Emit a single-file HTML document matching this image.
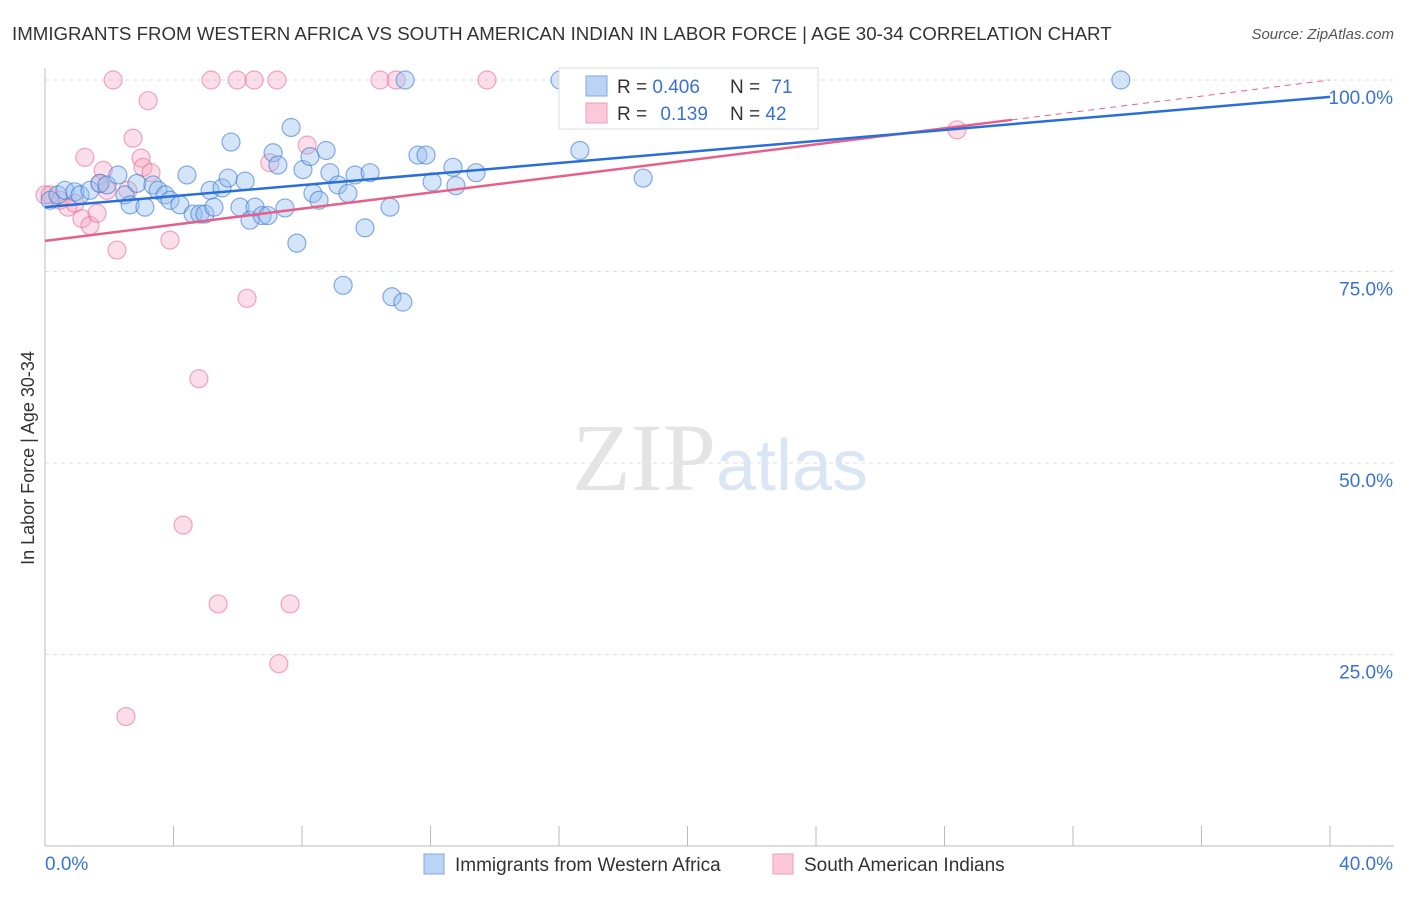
<!DOCTYPE html>
<html><head><meta charset="utf-8"><style>
body{margin:0;background:#fff;font-family:"Liberation Sans",sans-serif;}
svg text{font-family:"Liberation Sans",sans-serif;}
</style></head><body>
<svg id="chart" width="1406" height="892" xmlns="http://www.w3.org/2000/svg">
<text x="12" y="40" font-size="18.7" fill="#333">IMMIGRANTS FROM WESTERN AFRICA VS SOUTH AMERICAN INDIAN IN LABOR FORCE | AGE 30-34 CORRELATION CHART</text>
<text x="1394" y="39" font-size="15" fill="#555" font-style="italic" text-anchor="end">Source: ZipAtlas.com</text>
<g id="grid"></g>
<text x="720" y="490" font-size="96" text-anchor="middle"><tspan fill="#e4e4e4" font-family="Liberation Serif">ZIP</tspan><tspan fill="#dbe6f5" font-size="72">atlas</tspan></text>
<g id="pts"></g>
<g id="lines"></g>
<text transform="translate(34,458) rotate(-90)" font-size="18" fill="#333" text-anchor="middle">In Labor Force | Age 30-34</text>
<g>
<rect x="559" y="68" width="259" height="61" fill="#fff" stroke="#ddd"/>
<rect x="586" y="76" width="21" height="20" fill="#bcd4f4" stroke="#7ea8e6"/>
<rect x="586" y="103" width="21" height="20" fill="#fbc9d8" stroke="#ee9db7"/>
<text x="617" y="93" font-size="19" fill="#333">R = <tspan fill="#3a72d0">0.406</tspan></text>
<text x="730" y="93" font-size="19" fill="#333">N = <tspan fill="#3a72d0" dx="6">71</tspan></text>
<text x="617" y="120" font-size="19" fill="#333">R = <tspan fill="#3a72d0" dx="8">0.139</tspan></text>
<text x="730" y="120" font-size="19" fill="#333">N = <tspan fill="#3a72d0">42</tspan></text>
</g>
<g>
<rect x="424" y="854" width="20" height="20" fill="#bcd4f4" stroke="#7ea8e6"/>
<text x="455" y="871" font-size="19" fill="#333">Immigrants from Western Africa</text>
<rect x="773" y="854" width="20" height="20" fill="#fbc9d8" stroke="#ee9db7"/>
<text x="804" y="871" font-size="19" fill="#333">South American Indians</text>
</g>
</svg>
<script>
const yTicks=[25,50,75,100];
const yTickLabels=["25.0%","50.0%","75.0%","100.0%"];
const xTickLabels=["0.0%","40.0%"];
const blueX=[0.16,0.40,0.62,0.93,1.09,1.40,1.71,1.93,2.27,2.49,2.65,2.86,3.11,3.36,3.52,3.74,3.89,4.20,4.42,4.61,4.82,4.98,5.14,5.26,5.51,5.70,5.79,6.07,6.23,6.38,6.54,6.76,6.94,7.10,7.25,7.47,7.66,7.84,8.03,8.25,8.34,8.53,8.75,8.87,9.12,9.28,9.43,9.65,9.96,10.12,10.74,10.80,11.14,11.21,11.61,11.86,12.05,12.70,12.79,13.42,16.03,16.65,18.62,33.49,22.26];
const blueY=[84.3,85.0,85.6,85.4,85.0,85.6,86.5,86.3,87.6,85.0,83.7,86.5,83.4,86.3,85.6,85.0,84.3,83.7,87.6,82.5,82.5,82.5,85.6,83.4,85.9,87.2,91.9,83.4,86.8,81.7,83.4,82.3,82.3,90.5,88.9,83.3,93.8,78.7,88.3,90.0,85.2,84.3,90.8,87.9,86.3,73.2,85.2,87.6,80.7,87.9,83.4,71.7,71.0,100,90.2,90.2,86.7,88.6,86.2,87.9,100,90.8,87.2,100,95.6];
const pinkX=[0.0,0.16,0.47,0.71,0.93,1.15,1.24,1.40,1.62,1.71,1.81,1.93,2.12,2.24,2.58,2.74,2.99,3.05,3.21,3.30,3.89,4.30,4.79,5.17,5.39,5.98,6.29,6.51,7.00,7.22,7.28,7.63,8.16,10.43,10.93,13.76,2.52,22.51,28.39];
const pinkY=[85.0,85.0,84.3,83.4,83.9,81.9,89.9,81.0,82.6,86.5,88.2,85.6,100,77.8,85.6,92.4,89.8,88.6,97.3,87.9,79.1,41.9,61.0,100,31.6,100,71.5,100,89.2,100,23.8,31.6,91.5,100,100,100,16.9,100,93.5];
const blueLine=[83.4,97.8];
const pinkLine=[79.0,100];
const X0=45,X1=1330,Y0=846,Y100=80;
const sx=v=>X0+(X1-X0)*v/40, sy=v=>Y0-(Y0-Y100)*v/100;
const NS="http://www.w3.org/2000/svg";
function mk(t,a,p){const e=document.createElementNS(NS,t);for(const k in a)e.setAttribute(k,a[k]);p.appendChild(e);return e;}
const grid=document.getElementById('grid');
mk('line',{x1:45,y1:68,x2:45,y2:846,stroke:'#bbb'},grid);
mk('line',{x1:45,y1:846,x2:1394,y2:846,stroke:'#bbb'},grid);
yTicks.forEach((t,i)=>{
 const g=mk('line',{x1:45,y1:sy(t),x2:1394,y2:sy(t),stroke:'#ddd','stroke-dasharray':'4,4'},grid);
 
 
 const tx=mk('text',{x:1393,y:sy(t)+24,'font-size':19,fill:'#3a72d0','text-anchor':'end'},grid);
 tx.textContent=yTickLabels[i];
 
 
});
for(let i=0;i<=10;i++){const l=mk('line',{x1:sx(i*4),y1:826,x2:sx(i*4),y2:846,stroke:'#bbb'},grid);
 
 }
const xl0=mk('text',{x:45,y:870,'font-size':19,fill:'#3a72d0'},grid);xl0.textContent=xTickLabels[0];


const xl1=mk('text',{x:1393,y:870,'font-size':19,fill:'#3a72d0','text-anchor':'end'},grid);xl1.textContent=xTickLabels[1];


const pts=document.getElementById('pts');
pinkX.forEach((x,i)=>{const c=mk('circle',{cx:sx(x),cy:sy(pinkY[i]),r:9,fill:'rgba(246,160,188,0.35)',stroke:'rgba(232,110,150,0.6)','stroke-width':1.2},pts);
 
 });
blueX.forEach((x,i)=>{const c=mk('circle',{cx:sx(x),cy:sy(blueY[i]),r:9,fill:'rgba(150,190,240,0.4)',stroke:'rgba(60,120,210,0.6)','stroke-width':1.2},pts);
 
 });
const lines=document.getElementById('lines');
const pl=x=>pinkLine[0]+(pinkLine[1]-pinkLine[0])*x/40;
let l1=mk('line',{x1:sx(0),y1:sy(pl(0)),x2:sx(30.1),y2:sy(pl(30.1)),stroke:'#e8608a','stroke-width':2.5},lines);


let l2=mk('line',{x1:sx(30.1),y1:sy(pl(30.1)),x2:sx(40),y2:sy(pl(40)),stroke:'#e8608a','stroke-width':1,'stroke-dasharray':'6,5'},lines);


let l3=mk('line',{x1:sx(0),y1:sy(blueLine[0]),x2:sx(40),y2:sy(blueLine[1]),stroke:'#2a6fd6','stroke-width':2.5},lines);


</script>
</body></html>
